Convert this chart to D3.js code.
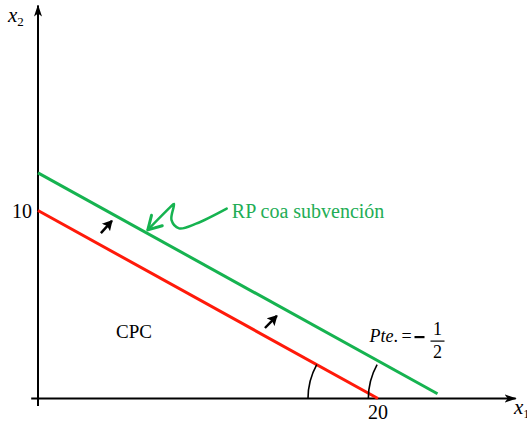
<!DOCTYPE html>
<html>
<head>
<meta charset="utf-8">
<script src="https://cdn.jsdelivr.net/npm/d3@7"></script>
<style>
  html, body { margin: 0; padding: 0; background: #fff; }
  svg { display: block; }
  text { font-family: "Liberation Serif", "DejaVu Serif", serif; }
</style>
</head>
<body>
<div id="chart"></div>
<script>
// Budget constraint diagram: original (red) and subsidised (green) budget lines.

const X_AXIS = [[-0.4, 0], [28.1, 0]];
const Y_AXIS = [[0, -0.4], [0, 20.9]];

const RED_LINE   = [[0, 10], [20, 0]];
const GREEN_LINE = [[0, 12], [23.5, 0.25]];

const X_TICKS = [{ v: 20, label: "20" }];
const Y_TICKS = [{ v: 10, label: "10" }];

// small black arrows showing the outward shift [tail, tip]
const SHIFT_ARROWS = [
  [[3.7, 8.8], [4.35, 9.45]],
  [[13.35, 3.75], [14.05, 4.4]],
];

// callout squiggle from label down to the green line
const CALLOUT = [[11.1, 10.1], [9.3, 9.3], [8.3, 9.05], [7.85, 9.5], [8.0, 10.35], [7.75, 10.15], [6.46, 8.97]];
const CALLOUT_LABEL = { x: 11.4, y: 9.95, text: "RP coa subvención" };

// angle marks at the x-intercepts
const ANGLES = [{ cx: 20, line: RED_LINE }, { cx: 23.55, line: GREEN_LINE }];

const CPC_LABEL = { x: 5.65, y: 3.6, text: "CPC" };
const SLOPE_LABEL = { x: 19.5, y: 3.0 };

const RED = "#ff1a0a", GREEN = "#16b350", GREEN_TXT = "#22ad55";

const W = 527, H = 422;
const x = d3.scaleLinear().domain([0, 20]).range([38, 378]);
const y = d3.scaleLinear().domain([0, 10]).range([398.5, 210.5]);

const svg = d3.select("#chart").append("svg").attr("width", W).attr("height", H);
const defs = svg.append("defs");

defs.append("marker")
  .attr("id", "axis-head").attr("viewBox", "0 -5 12 10")
  .attr("refX", 11).attr("refY", 0)
  .attr("markerWidth", 12).attr("markerHeight", 10)
  .attr("markerUnits", "userSpaceOnUse").attr("orient", "auto")
  .append("path").attr("d", "M0,-4L12,0L0,4L3,0Z").attr("fill", "#000");

defs.append("marker")
  .attr("id", "shift-head").attr("viewBox", "0 -6 10 12")
  .attr("refX", 9).attr("refY", 0)
  .attr("markerWidth", 10).attr("markerHeight", 12)
  .attr("markerUnits", "userSpaceOnUse").attr("orient", "auto")
  .append("path").attr("d", "M0,-5.5L10,0L0,5.5L2,0Z").attr("fill", "#000");

defs.append("marker")
  .attr("id", "callout-head").attr("viewBox", "-16 -10 18 20")
  .attr("refX", 0).attr("refY", 0)
  .attr("markerWidth", 18).attr("markerHeight", 20)
  .attr("markerUnits", "userSpaceOnUse").attr("orient", "auto")
  .append("path").attr("d", "M-13,-7.5L0,0L-13,7.5")
  .attr("fill", "none").attr("stroke", GREEN).attr("stroke-width", 3)
  .attr("stroke-linecap", "round").attr("stroke-linejoin", "round");

const line = d3.line().x(d => x(d[0])).y(d => y(d[1]));

// axes
svg.append("path").datum(X_AXIS).attr("d", line)
  .attr("stroke", "#000").attr("stroke-width", 2).attr("marker-end", "url(#axis-head)");
svg.append("path").datum(Y_AXIS).attr("d", line)
  .attr("stroke", "#000").attr("stroke-width", 2).attr("marker-end", "url(#axis-head)");

// axis labels
const xl = svg.append("text").attr("x", x(28.0)).attr("y", y(-0.85)).attr("font-size", 21);
xl.append("tspan").attr("font-style", "italic").text("x");
xl.append("tspan").attr("font-size", 13).attr("dy", 4).text("1");

const yl = svg.append("text").attr("x", 8).attr("y", y(20.05)).attr("font-size", 21);
yl.append("tspan").attr("font-style", "italic").text("x");
yl.append("tspan").attr("font-size", 13).attr("dy", 4).text("2");

// ticks labels
svg.selectAll(".xt").data(X_TICKS).join("text")
  .attr("x", d => x(d.v)).attr("y", y(0) + 20)
  .attr("text-anchor", "middle").attr("font-size", 20).text(d => d.label);
svg.selectAll(".yt").data(Y_TICKS).join("text")
  .attr("x", x(0) - 6).attr("y", d => y(d.v) + 7)
  .attr("text-anchor", "end").attr("font-size", 20).text(d => d.label);

// budget lines
svg.append("path").datum(RED_LINE).attr("d", line)
  .attr("stroke", RED).attr("stroke-width", 3).attr("fill", "none");
svg.append("path").datum(GREEN_LINE).attr("d", line)
  .attr("stroke", GREEN).attr("stroke-width", 3).attr("fill", "none");

// angle arcs
ANGLES.forEach(({ cx, line: seg }) => {
  const px = x(cx), py = y(0);
  const dx = x(seg[1][0]) - x(seg[0][0]), dy = y(seg[1][1]) - y(seg[0][1]);
  const a = Math.atan2(dy, dx);
  const r = 70;
  const p = d3.path();
  p.moveTo(px - r, py);
  p.arc(px, py, r, Math.PI, Math.PI + a, false);
  svg.append("path").attr("d", p.toString())
    .attr("fill", "none").attr("stroke", "#000").attr("stroke-width", 1.6);
});

// shift arrows
svg.selectAll(".shift").data(SHIFT_ARROWS).join("path")
  .attr("d", line).attr("stroke", "#000").attr("stroke-width", 2.5)
  .attr("marker-end", "url(#shift-head)");

// callout
svg.append("path").datum(CALLOUT)
  .attr("d", d3.line().x(d => x(d[0])).y(d => y(d[1])).curve(d3.curveCatmullRom))
  .attr("fill", "none").attr("stroke", GREEN).attr("stroke-width", 2.5)
  .attr("stroke-linecap", "round").attr("marker-end", "url(#callout-head)");
svg.append("text").attr("x", x(CALLOUT_LABEL.x)).attr("y", y(CALLOUT_LABEL.y) + 7)
  .attr("font-size", 20).attr("fill", GREEN_TXT).text(CALLOUT_LABEL.text);

// CPC
svg.append("text").attr("x", x(CPC_LABEL.x)).attr("y", y(CPC_LABEL.y) + 7)
  .attr("text-anchor", "middle").attr("font-size", 19).text(CPC_LABEL.text);

// slope label
const sx = x(SLOPE_LABEL.x), sy = y(SLOPE_LABEL.y);
const sl = svg.append("text").attr("x", sx).attr("y", sy).attr("font-size", 18);
sl.append("tspan").attr("font-style", "italic").text("Pte");
sl.append("tspan").text(".\u2009=");
svg.append("line").attr("x1", sx + 45).attr("x2", sx + 55).attr("y1", sy - 5).attr("y2", sy - 5)
  .attr("stroke", "#000").attr("stroke-width", 2.2);
svg.append("text").attr("x", sx + 68).attr("y", sy - 7).attr("text-anchor", "middle")
  .attr("font-size", 18).text("1");
svg.append("text").attr("x", sx + 68).attr("y", sy + 16).attr("text-anchor", "middle")
  .attr("font-size", 18).text("2");
svg.append("line").attr("x1", sx + 61).attr("x2", sx + 75).attr("y1", sy - 1).attr("y2", sy - 1)
  .attr("stroke", "#000").attr("stroke-width", 1.2);
</script>
</body>
</html>
